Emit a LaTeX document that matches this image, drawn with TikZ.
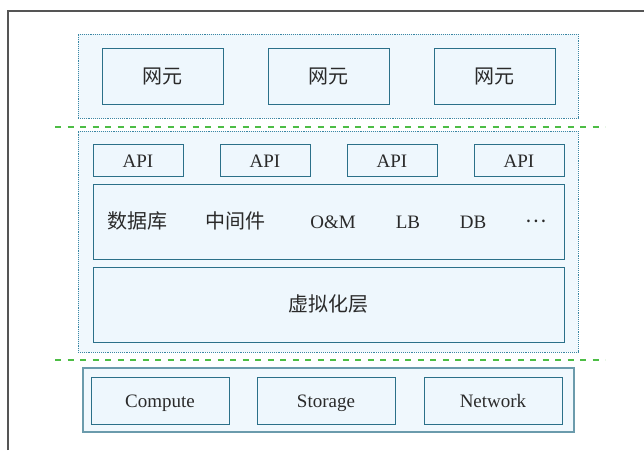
\documentclass[tikz,border=0pt]{standalone}
\usepackage{fontspec}
\setmainfont{Liberation Serif}
\newfontfamily\cjk{Noto Sans CJK SC}

\definecolor{boxline}{HTML}{2B7089}
\definecolor{boxfill}{HTML}{EEF7FD}
\definecolor{groupline}{HTML}{3A86A3}
\definecolor{groupfill}{HTML}{F0F8FD}
\definecolor{greenline}{HTML}{4DBD45}
\definecolor{frameline}{HTML}{555555}
\definecolor{textcol}{HTML}{2A2A2A}

\tikzset{
  box/.style={draw=boxline, fill=boxfill, line width=1pt, inner sep=0pt},
  group/.style={draw=groupline, fill=groupfill, densely dotted, line width=0.9pt, inner sep=0pt},
  basebox/.style={draw=boxline!70, fill=groupfill, line width=1.3pt, inner sep=0pt},
  txt/.style={inner sep=1pt, text=textcol, text height=15pt, text depth=1pt, font=\fontsize{19}{21}\selectfont},
  cjktxt/.style={txt, font=\cjk\fontsize{20}{22}\selectfont},
  layerline/.style={draw=greenline, line width=1.6pt, dash pattern=on 6pt off 6.5pt},
}

\begin{document}
\begin{tikzpicture}[x=1pt, y=-1pt]
    \useasboundingbox (0,0) rectangle (644,450);

    % Frame
    \draw[frameline, line width=1.2pt] (8,450) -- (8,11) -- (644,11);

    % Network elements
    \node[group, minimum width=500pt, minimum height=84pt] (top) at (328,76) {};
    \node[box, minimum width=121pt, minimum height=56pt, cjktxt] (ne1) at (162.5,76) {网元};
    \node[box, minimum width=121pt, minimum height=56pt, cjktxt] (ne2) at (328.5,76) {网元};
    \node[box, minimum width=121pt, minimum height=56pt, cjktxt] (ne3) at (494.5,76) {网元};

    % Platform layer
    \node[group, minimum width=500pt, minimum height=221pt] (mid) at (328,241.5) {};
    \node[box, minimum width=90pt, minimum height=32pt, txt] (api1) at (138,160) {API};
    \node[box, minimum width=90pt, minimum height=32pt, txt] (api2) at (265,160) {API};
    \node[box, minimum width=90pt, minimum height=32pt, txt] (api3) at (392,160) {API};
    \node[box, minimum width=90pt, minimum height=32pt, txt] (api4) at (519,160) {API};
    \node[box, minimum width=471pt, minimum height=75pt] (svc) at (328.5,221.5) {};
    \node[cjktxt] (dbase) at (137,221) {数据库};
    \node[cjktxt] (mware) at (235,221) {中间件};
    \node[txt] (om) at (333,221) {O\&M};
    \node[txt] (lb) at (408,221) {LB};
    \node[txt] (db) at (473,221) {DB};
    \node[cjktxt] (more) at (536,215) {⋯};
    \node[box, minimum width=471pt, minimum height=75pt, cjktxt] (virt) at (328.5,304.5) {虚拟化层};

    % Hardware
    \node[basebox, minimum width=491pt, minimum height=64pt] (hw) at (328.5,400) {};
    \node[box, minimum width=138pt, minimum height=47pt, txt] (cpu) at (160,400.5) {Compute};
    \node[box, minimum width=138pt, minimum height=47pt, txt] (sto) at (326,400.5) {Storage};
    \node[box, minimum width=138pt, minimum height=47pt, txt] (net) at (493,400.5) {Network};

    % Layer borders
    \coordinate (l1a) at (55,127);
    \coordinate (l1b) at (605,127);
    \coordinate (l2a) at (55,360);
    \coordinate (l2b) at (605,360);
    \draw[layerline] (l1a) -- (l1b);
    \draw[layerline] (l2a) -- (l2b);
\end{tikzpicture}
\end{document}
